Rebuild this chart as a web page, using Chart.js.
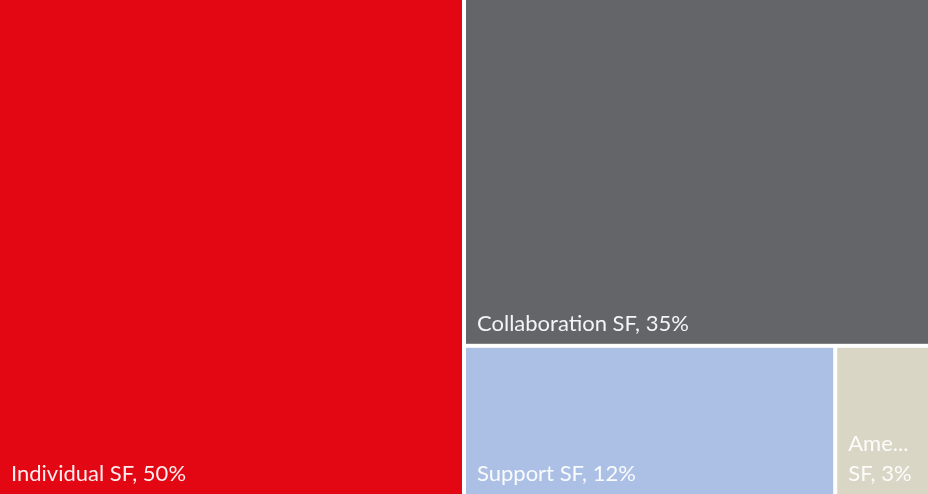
<!DOCTYPE html>
<html>
<head>
<meta charset="utf-8">
<title>SF share</title>
<script src="https://cdn.jsdelivr.net/npm/chart.js@4.4.1/dist/chart.umd.min.js"></script>
<style>
  html, body { margin: 0; padding: 0; background: #fff; }
  #wrap { position: relative; width: 928px; height: 494px; }
</style>
</head>
<body>
<div id="wrap"><canvas id="treemapChart"></canvas></div>
<script>
    const categories = ['Individual SF', 'Collaboration SF', 'Support SF', 'Americas SF'];
    const shares = [50, 35, 12, 3];
    const tileColors = ['#e30613', '#636569', '#abc0e4', '#d9d6c6'];

    const GAP = 2;
    const FONT = '22px Lato, "Open Sans", sans-serif';
    const LINE_HEIGHT = 30;
    const PAD_X = 13;

    // squarified layout in a space of width `aspect` and height 1
    const worst = (row, side) => {
        const sum = row.reduce((a, r) => a + r.area, 0);
        const max = Math.max(...row.map(r => r.area));
        const min = Math.min(...row.map(r => r.area));
        return Math.max(side * side * max / (sum * sum), (sum * sum) / (side * side * min));
    };

    const squarify = (values, aspect) => {
        const total = values.reduce((a, v) => a + v, 0);
        let rest = values.map((v, i) => ({i, area: v / total * aspect}));
        let x = 0, y = 0, w = aspect, h = 1;
        const out = [];
        while (rest.length) {
            const side = Math.min(w, h);
            const row = [rest[0]];
            let k = 1;
            while (k < rest.length && worst(row.concat(rest[k]), side) <= worst(row, side)) {
                row.push(rest[k]);
                k++;
            }
            rest = rest.slice(k);
            const sum = row.reduce((a, r) => a + r.area, 0);
            if (w >= h) {
                const cw = sum / h;
                let cy = y;
                row.forEach(r => {
                    const rh = r.area / cw;
                    out[r.i] = {x0: x / aspect, x1: (x + cw) / aspect, y0: cy, y1: cy + rh};
                    cy += rh;
                });
                x += cw; w -= cw;
            } else {
                const rh = sum / w;
                let cx = x;
                row.forEach(r => {
                    const rw = r.area / rh;
                    out[r.i] = {x0: cx / aspect, x1: (cx + rw) / aspect, y0: y, y1: y + rh};
                    cx += rw;
                });
                y += rh; h -= rh;
            }
        }
        return out;
    };

    // break the label into lines that fit, cutting long words with "..."
    const fitLines = (ctx, text, maxWidth) => {
        if (ctx.measureText(text).width <= maxWidth) return [text];
        const lines = [];
        let current = '';
        text.split(' ').forEach(word => {
            const next = current ? current + ' ' + word : word;
            if (ctx.measureText(next).width <= maxWidth) {
                current = next;
                return;
            }
            if (current) lines.push(current);
            current = word;
        });
        if (current) lines.push(current);
        return lines.map(line => {
            if (ctx.measureText(line).width <= maxWidth) return line;
            let cut = line;
            while (cut.length > 1 && ctx.measureText(cut + '...').width > maxWidth) cut = cut.slice(0, -1);
            return cut + '...';
        });
    };

    const treemapPlugin = {
        id: 'treemapTiles',
        afterDatasetsDraw(chart) {
            const {ctx, chartArea: area, scales: {x: xs, y: ys}} = chart;
            const aspect = (area.right - area.left) / (area.bottom - area.top);
            const tiles = squarify(shares, aspect);

            ctx.save();
            tiles.forEach((t, i) => {
                let left = xs.getPixelForValue(t.x0);
                let right = xs.getPixelForValue(t.x1);
                let top = ys.getPixelForValue(t.y0);
                let bottom = ys.getPixelForValue(t.y1);
                if (left > area.left + 0.5) left += GAP;
                if (right < area.right - 0.5) right -= GAP;
                if (top > area.top + 0.5) top += GAP;
                if (bottom < area.bottom - 0.5) bottom -= GAP;

                ctx.fillStyle = tileColors[i];
                ctx.fillRect(left, top, right - left, bottom - top);

                ctx.font = FONT;
                ctx.fillStyle = 'rgba(255, 255, 255, 0.93)';
                ctx.textAlign = 'left';
                ctx.textBaseline = 'alphabetic';
                const lines = fitLines(ctx, categories[i] + ', ' + shares[i] + '%', right - left - 2 * PAD_X);
                lines.forEach((line, n) => {
                    const baseline = bottom - 13 - (lines.length - 1 - n) * LINE_HEIGHT;
                    ctx.fillText(line, left + 11, baseline);
                });
            });
            ctx.restore();
        }
    };

    new Chart(document.getElementById('treemapChart'), {
        type: 'scatter',
        data: {datasets: [{data: []}]},
        options: {
            responsive: true,
            maintainAspectRatio: false,
            animation: false,
            layout: {padding: 0},
            scales: {
                x: {type: 'linear', min: 0, max: 1, display: false},
                y: {type: 'linear', min: 0, max: 1, reverse: true, display: false}
            },
            plugins: {
                legend: {display: false},
                tooltip: {enabled: false}
            }
        },
        plugins: [treemapPlugin]
    });
</script>
</body>
</html>
